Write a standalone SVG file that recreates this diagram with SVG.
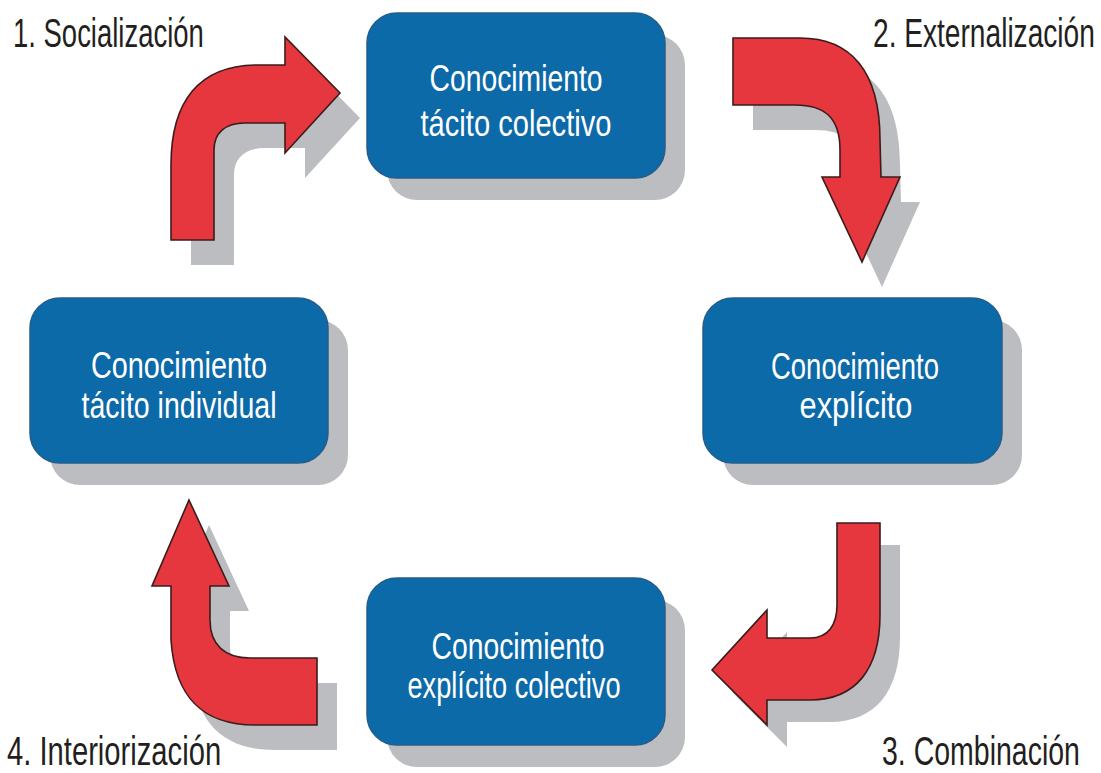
<svg xmlns="http://www.w3.org/2000/svg" width="1101" height="773" viewBox="0 0 1101 773">
  <style>
    .shadow { fill: #bcbdc1; }
    .box { fill: #0d6aa8; stroke: #235d8c; stroke-width: 1.5; }
    .btxt { fill: #ffffff; font-family: "Liberation Sans", Arial, sans-serif; font-size: 37px; text-anchor: middle; }
    .lbl { fill: #231f20; font-family: "Liberation Sans", Arial, sans-serif; font-size: 40px; }
    .arrow { fill: #e5373d; stroke: #3b1c1c; stroke-width: 1.6; stroke-linejoin: miter; }
  </style>
  <defs>
    <path id="a1" d="M171,240 L171,165 C171,100 200,66 255,65 L285,65 L285,37 L340,93 L285,153 L285,123 L245,123 C225,123 214,133 214,150 L214,240 Z"/>
    <path id="a2" d="M733,38 L800,38 C850,38 880,70 880,140 L881,177 L900,177 L862,262 L822,177 L840,177 L840,150 C840,118 825,105 795,105 L733,105 Z"/>
    <path id="a3" d="M837,523 L880,523 L880,615 C880,670 855,700 810,700 L767,700 L767,725 L712,670 L767,610 L767,638 L810,638 C828,638 837,625 837,605 Z"/>
    <path id="a4" d="M189,500 L229,586 L210,586 L210,620 C210,645 225,658 250,658 L317,658 L317,725 L255,725 C205,725 175,700 171,640 L171,586 L152,586 Z"/>
  </defs>

  <g id="connectors">
    <use href="#a1" class="shadow" transform="translate(20,25)"/>
    <use href="#a2" class="shadow" transform="translate(20,25)"/>
    <use href="#a3" class="shadow" transform="translate(20,22)"/>
    <use href="#a4" class="shadow" transform="translate(20,25)"/>
    <use href="#a1" class="arrow"/>
    <use href="#a2" class="arrow"/>
    <use href="#a3" class="arrow"/>
    <use href="#a4" class="arrow"/>
  </g>

  <g id="node-tacito-colectivo">
    <rect class="shadow" x="387" y="35" width="298" height="165" rx="30"/>
    <rect class="box" x="367" y="13" width="298" height="165" rx="30"/>
    <text class="btxt" x="516" y="91" textLength="173" lengthAdjust="spacingAndGlyphs">Conocimiento</text>
    <text class="btxt" x="516" y="136" textLength="191" lengthAdjust="spacingAndGlyphs">tácito colectivo</text>
  </g>

  <g id="node-tacito-individual">
    <rect class="shadow" x="50" y="320" width="298" height="165" rx="30"/>
    <rect class="box" x="30" y="298" width="298" height="165" rx="30"/>
    <text class="btxt" x="179" y="378" textLength="176" lengthAdjust="spacingAndGlyphs">Conocimiento</text>
    <text class="btxt" x="179" y="418" textLength="195" lengthAdjust="spacingAndGlyphs">tácito individual</text>
  </g>

  <g id="node-explicito">
    <rect class="shadow" x="723" y="320" width="299" height="165" rx="30"/>
    <rect class="box" x="703" y="298" width="299" height="165" rx="30"/>
    <text class="btxt" x="855" y="379" textLength="168" lengthAdjust="spacingAndGlyphs">Conocimiento</text>
    <text class="btxt" x="856" y="418" textLength="113" lengthAdjust="spacingAndGlyphs">explícito</text>
  </g>

  <g id="node-explicito-colectivo">
    <rect class="shadow" x="387" y="600" width="298" height="167" rx="30"/>
    <rect class="box" x="367" y="578" width="298" height="167" rx="30"/>
    <text class="btxt" x="518" y="659" textLength="173" lengthAdjust="spacingAndGlyphs">Conocimiento</text>
    <text class="btxt" x="514" y="698" textLength="213" lengthAdjust="spacingAndGlyphs">explícito colectivo</text>
  </g>

  <g id="labels">
    <text class="lbl" transform="translate(13,47) scale(0.687,1)">1. Socialización</text>
    <text class="lbl" transform="translate(873,47) scale(0.703,1)">2. Externalización</text>
    <text class="lbl" transform="translate(882,765) scale(0.7125,1)">3. Combinación</text>
    <text class="lbl" transform="translate(7,765) scale(0.73,1)">4. Interiorización</text>
  </g>
</svg>
